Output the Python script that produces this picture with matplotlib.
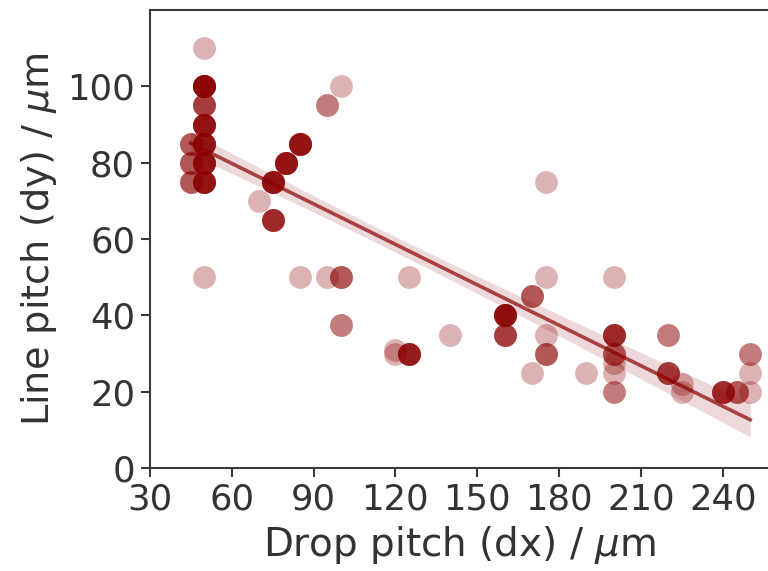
import numpy as np
import matplotlib
matplotlib.use("Agg")
import matplotlib.pyplot as plt

# drop pitch (dx), line pitch (dy), number of identical samples
dx = [50, 50, 50, 50, 50, 50, 50, 50, 45, 45, 45, 70, 75, 75, 80, 85, 85,
      95, 95, 100, 100, 100, 120, 120, 125, 125, 140, 160, 160, 170, 170,
      175, 175, 175, 175, 190, 200, 200, 200, 200, 200, 200, 220, 220,
      225, 225, 240, 245, 250, 250, 250]
dy = [110, 100, 95, 90, 85, 80, 75, 50, 85, 80, 75, 70, 75, 65, 80, 85, 50,
      95, 50, 100, 50, 37.5, 31, 30, 30, 50, 35, 40, 35, 45, 25,
      75, 50, 35, 30, 25, 50, 35, 30, 27.5, 25, 20, 35, 25,
      22, 20, 20, 20, 30, 25, 20]
count = [1, 10, 4, 7, 7, 7, 7, 1, 3, 3, 3, 1, 7, 5, 7, 7, 1,
         2, 1, 1, 3, 2, 1, 1, 6, 1, 1, 8, 4, 3, 1,
         1, 1, 1, 3, 1, 1, 5, 3, 1, 1, 2, 2, 4,
         1, 1, 5, 3, 2, 1, 1]

x = np.repeat(dx, count).astype(float)
y = np.repeat(dy, count).astype(float)

col = "#8b0000"
txt = "#333333"
plt.rcParams['font.family'] = ['DejaVu Sans']
plt.rcParams['font.size'] = 25.5
plt.rcParams['text.color'] = txt
plt.rcParams['axes.labelcolor'] = txt
plt.rcParams['xtick.color'] = txt
plt.rcParams['ytick.color'] = txt

fig = plt.figure(figsize=(7.68, 5.71), dpi=100)
ax = fig.add_axes([0.195, 0.18, 0.806, 0.8025])

ax.scatter(x, y, s=270, color=col, alpha=0.3, linewidths=0, zorder=2)

# linear fit with 95% confidence band
n = len(x)
b, a = np.polyfit(x, y, 1)
xs = np.linspace(x.min(), x.max(), 100)
ys = a + b * xs
res = y - (a + b * x)
s = np.sqrt(np.sum(res ** 2) / (n - 2))
se = s * np.sqrt(1.0 / n + (xs - x.mean()) ** 2 / np.sum((x - x.mean()) ** 2))
ax.fill_between(xs, ys - 1.98 * se, ys + 1.98 * se, color=col, alpha=0.15,
                linewidth=0, zorder=3)
ax.plot(xs, ys, color=col, alpha=0.7, lw=2.6, zorder=4)

ax.set_xlim(30, 256.8)
ax.set_ylim(0, 120)
ax.set_xticks(range(30, 241, 30))
ax.set_yticks(range(0, 101, 20))
ax.set_xlabel(r"Drop pitch (dx) / $\mu$m", fontsize=28, labelpad=5)
ax.set_ylabel(r"Line pitch (dy) / $\mu$m", fontsize=27.5, labelpad=6)
ax.spines['right'].set_visible(False)
for sp in ax.spines.values():
    sp.set_color('#3a3a3a')
    sp.set_linewidth(1.5)
ax.tick_params(length=6.5, width=1.5, color='#3a3a3a', pad=4)

fig.savefig("out.png", dpi=100)
